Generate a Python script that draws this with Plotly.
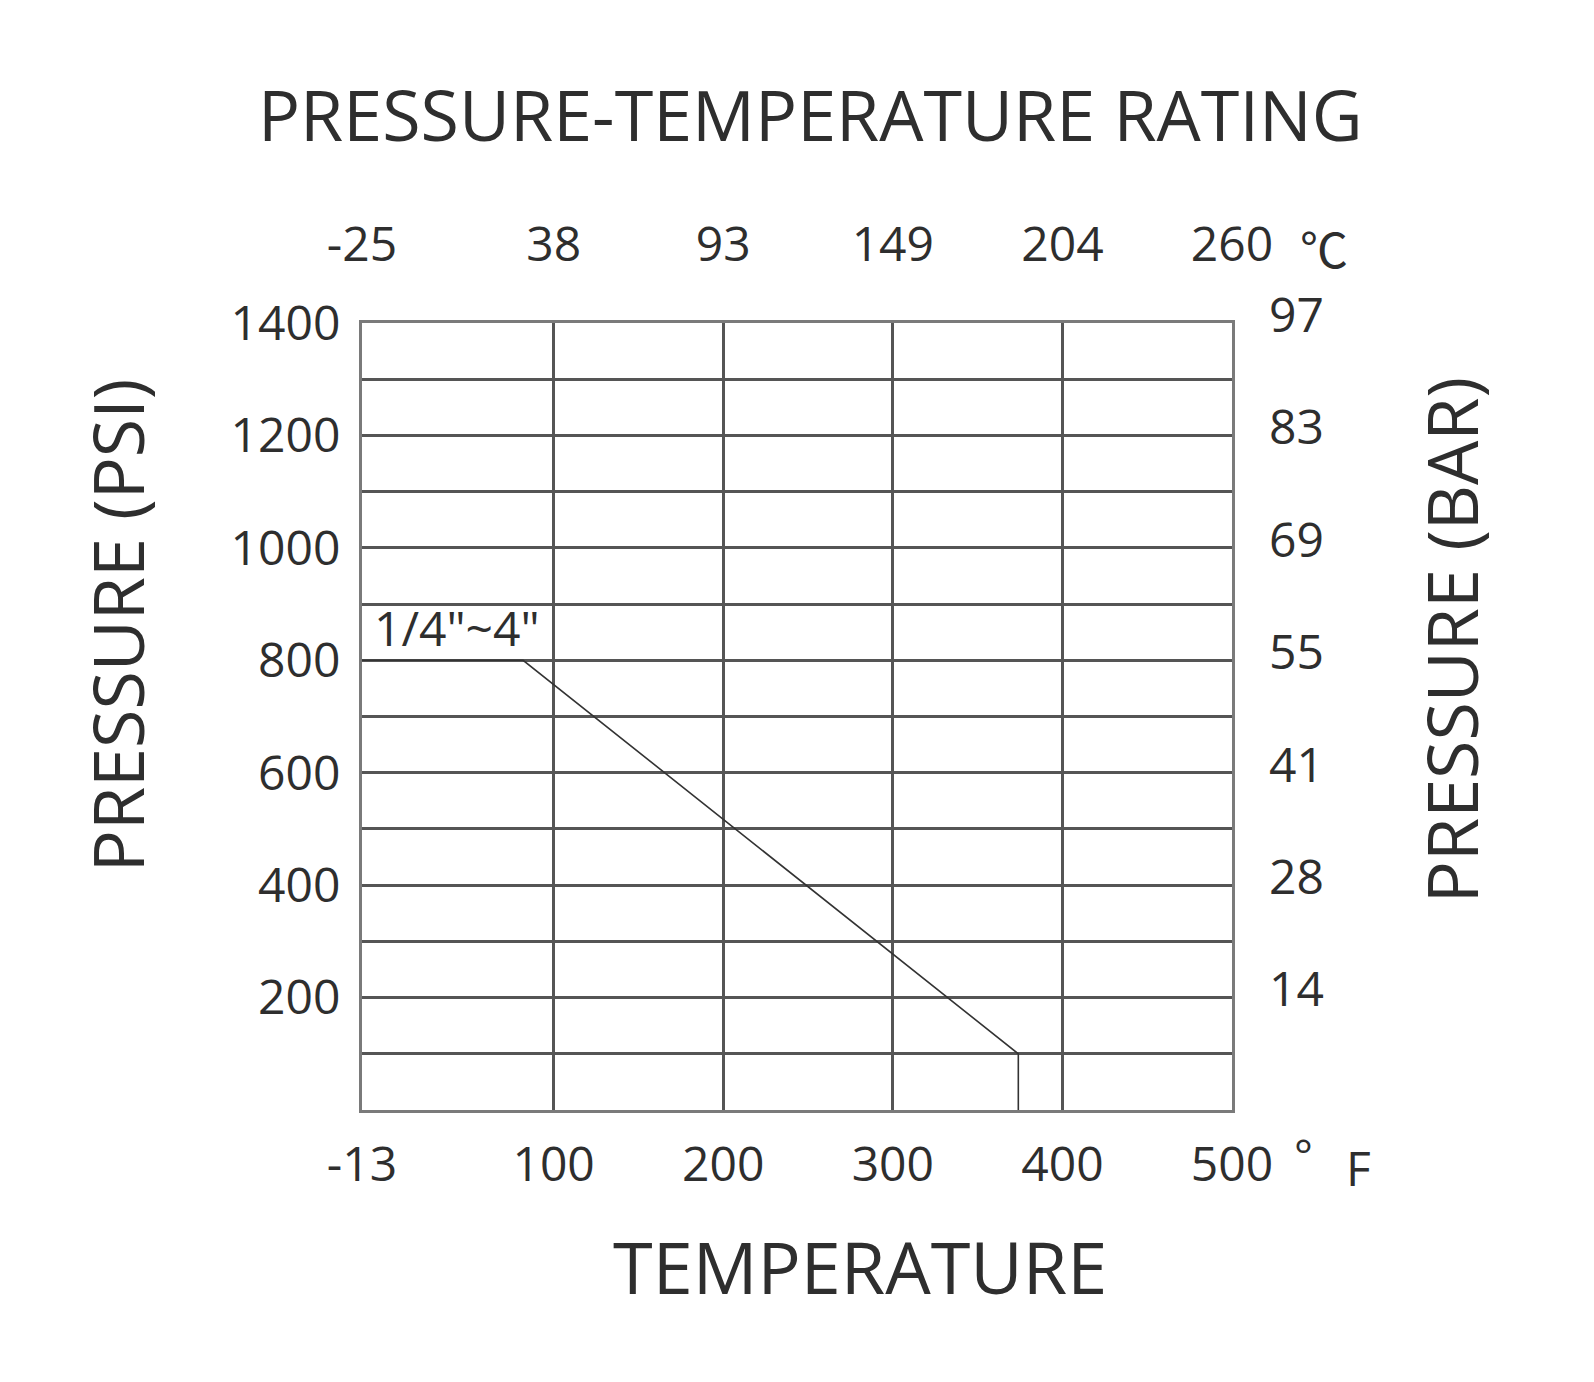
import plotly.graph_objects as go

# ---- data ----
temp_f = [-13, 82, 374, 374]          # rating curve, temperature (°F)
pressure_psi = [800, 800, 100, 0]     # rating curve, pressure (psi)

f_ticks = [-13, 100, 200, 300, 400, 500]
f_labels = ["-13", "100", "200", "300", "400", "500"]
c_labels = ["-25", "38", "93", "149", "204", "260"]

psi_grid = [100, 200, 300, 400, 500, 600, 700, 800, 900, 1000, 1100, 1200, 1300, 1400]
psi_labels = ["", "200", "", "400", "", "600", "", "800", "", "1000", "", "1200", "", "1400"]
bar_ticks = [200, 400, 600, 800, 1000, 1200, 1400]
bar_labels = ["14", "28", "41", "55", "69", "83", "97"]

size_label = '1/4"~4"'

FONT = "Open Sans"
TXT = "#2e2e2e"
GRID = "#555555"

fig = go.Figure()
fig.add_trace(go.Scatter(x=temp_f, y=pressure_psi, mode="lines",
                         line=dict(color="#333333", width=1.6),
                         hoverinfo="skip", showlegend=False))
# invisible twin to activate the secondary axes
fig.add_trace(go.Scatter(x=temp_f, y=pressure_psi, mode="lines",
                         line=dict(width=0), xaxis="x2", yaxis="y2",
                         hoverinfo="skip", showlegend=False))

axis_common = dict(showline=True, linecolor="#7a7a7a", linewidth=3, mirror=True,
                   zeroline=False, ticks="", tickfont=dict(family=FONT, size=48, color=TXT))

fig.update_layout(
    width=1594, height=1382,
    margin=dict(l=362, r=362, t=323, b=272),
    paper_bgcolor="white", plot_bgcolor="white",
    font=dict(family=FONT, color=TXT),
    xaxis=dict(range=[-13, 500], tickmode="array", tickvals=f_ticks, ticktext=f_labels,
               showgrid=True, gridcolor=GRID, gridwidth=2.5,
               ticklabelstandoff=10, **axis_common),
    xaxis2=dict(range=[-13, 500], overlaying="x", side="top", tickmode="array",
                tickvals=f_ticks, ticktext=c_labels, showgrid=False, showline=False,
                zeroline=False, ticks="", ticklabelstandoff=51,
                tickfont=dict(family=FONT, size=48, color=TXT)),
    yaxis=dict(range=[0, 1400], tickmode="array", tickvals=psi_grid, ticktext=psi_labels,
               showgrid=True, gridcolor=GRID, gridwidth=2.5,
               ticklabelstandoff=9, **axis_common),
    yaxis2=dict(range=[0, 1400], overlaying="y", side="right", tickmode="array",
                tickvals=bar_ticks, ticktext=bar_labels, showgrid=False, showline=False,
                zeroline=False, ticks="", ticklabelstandoff=36, ticklabelshift=-8,
                tickfont=dict(family=FONT, size=48, color=TXT)),
    showlegend=False,
)

annotations = [
    dict(text="PRESSURE-TEMPERATURE RATING", xref="paper", yref="paper", x=0.515, y=1.2656,
         xanchor="center", yanchor="middle", font=dict(family=FONT, size=70, color=TXT), showarrow=False),
    dict(text="PRESSURE (PSI)", xref="paper", yref="paper", x=-0.2816, y=0.616, textangle=-90,
         xanchor="center", yanchor="middle", font=dict(family=FONT, size=70, color=TXT), showarrow=False),
    dict(text="PRESSURE (BAR)", xref="paper", yref="paper", x=1.2517, y=0.597, textangle=-90,
         xanchor="center", yanchor="middle", font=dict(family=FONT, size=70, color=TXT), showarrow=False),
    dict(text="TEMPERATURE", xref="paper", yref="paper", x=0.5724, y=-0.198,
         xanchor="center", yanchor="middle", font=dict(family=FONT, size=72, color=TXT), showarrow=False),
    dict(text="°", xref="paper", yref="paper", x=1.082, y=-0.056,
         xanchor="center", yanchor="middle", font=dict(family=FONT, size=44, color=TXT), showarrow=False),
    dict(text="F", xref="paper", yref="paper", x=1.145, y=-0.073,
         xanchor="center", yanchor="middle", font=dict(family=FONT, size=48, color=TXT), showarrow=False),
    dict(text="℃", xref="paper", yref="paper", x=1.106, y=1.097,
         xanchor="center", yanchor="middle", font=dict(family="Noto Sans CJK SC", size=48, color=TXT), showarrow=False),
    dict(text=size_label, xref="x", yref="y", x=temp_f[0], y=pressure_psi[0],
         xanchor="left", yanchor="bottom", xshift=10, yshift=-2,
         font=dict(family=FONT, size=48, color=TXT), showarrow=False),
]
fig.update_layout(annotations=annotations)

fig.write_html("out.html")
